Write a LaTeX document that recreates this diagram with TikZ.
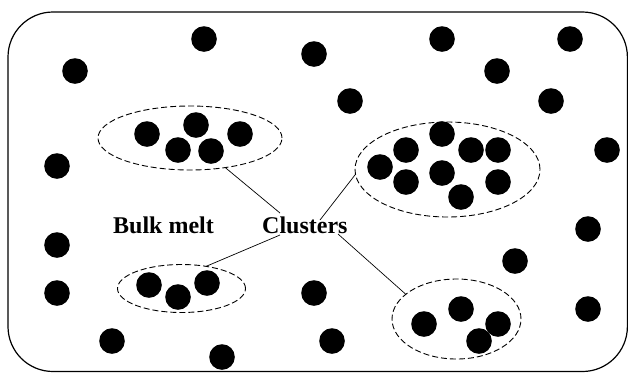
\documentclass[tikz,border=0pt]{standalone}
\usepackage{fontspec}
\setmainfont{Liberation Serif}
\usetikzlibrary{shapes.geometric}
\begin{document}
\begin{tikzpicture}[x=1pt,y=-1pt,
  frame/.style={draw=black,line width=1.2pt,rounded corners=45pt},
  dot/.style={fill=black},
  cluster/.style={draw=black,ellipse,dash pattern=on 6pt off 3pt,line width=0.9pt,inner sep=0pt,outer sep=0pt},
  link/.style={draw=black,line width=0.7pt},
  lbl/.style={font=\fontsize{24}{28}\selectfont\bfseries,inner sep=0pt,anchor=base west}]
\useasboundingbox (0,0) rectangle (628,373);
\draw[frame] (8,12) rectangle (627.4,371.5);
% free dots
\foreach \p in {(204,39),(75,71),(314,54),(442,39),(497,71),(570,39),(350,101),(551,101),
  (57,166),(607,150),(57,245),(57,293),(588,229),(515,261),(314,293),(588,309),
  (112,341),(222,357),(332,341)}
  \fill[dot] \p circle (12.8);
% clusters
\node[cluster,minimum width=184pt,minimum height=64pt] (e1) at (190,138) {};
\node[cluster,minimum width=185pt,minimum height=95pt] (e2) at (447.5,169.5) {};
\node[cluster,minimum width=128pt,minimum height=48pt] (e3) at (181.5,288.5) {};
\node[cluster,minimum width=129pt,minimum height=80pt] (e4) at (456.5,319) {};
\foreach \p in {(147,134),(196,125),(240,134),(178,150),(211,151),
  (380,167),(406,150),(442,134),(471,150),(498,150),(442,173),(406,182),(498,182),(461,197),
  (149,285),(178,297),(207,283),
  (424,324),(461,309),(498,324),(479,341)}
  \fill[dot] \p circle (12.8);
% labels
\node[lbl] (bulk) at (113,233) {Bulk melt};
\node[lbl] (clu) at (262,233) {Clusters};
% connector ends at the label
\coordinate (c1) at (280,213);
\coordinate (c2) at (320,220);
\coordinate (c3) at (280,235);
\coordinate (c4) at (338,234);
\draw[link] (e1.-40) -- (c1);
\draw[link] (e2.-177) -- (c2);
\draw[link] (e3.42) -- (c3);
\draw[link] (e4.154) -- (c4);
\end{tikzpicture}
\end{document}
